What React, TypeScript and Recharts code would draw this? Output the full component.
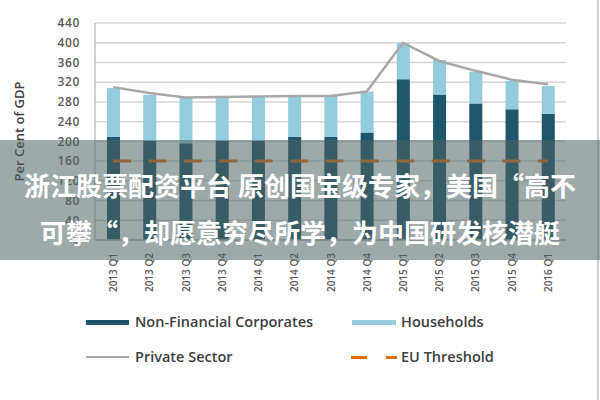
import React from 'react';
import { ComposedChart, Bar, Line, XAxis, YAxis, CartesianGrid, Label } from 'recharts';

const categories = ['2013 Q1', '2013 Q2', '2013 Q3', '2013 Q4', '2014 Q1', '2014 Q2', '2014 Q3', '2014 Q4', '2015 Q1', '2015 Q2', '2015 Q3', '2015 Q4', '2016 Q1'];
const nonFinancialCorporates = [209, 201, 196, 201, 201, 209, 209, 218, 326, 295, 277, 265, 256];
const households = [99, 93, 93, 90, 90, 85, 83, 83, 73, 70, 64, 58, 56];
const privateSector = [310, 298, 289, 290, 291, 292, 292, 301, 400, 363, 343, 325, 316];
const euThreshold = [160, 160, 160, 160, 160, 160, 160, 160, 160, 160, 160, 160, 160];
const yTicks = [0, 40, 80, 120, 160, 200, 240, 280, 320, 360, 400, 440];

const bannerLines = ['浙江股票配资平台 原创国宝级专家，美国“高不', '可攀“，却愿意穷尽所学，为中国研发核潜艇'];

const COLORS = {
  nfc: '#1e566b',
  hh: '#93cddd',
  ps: '#a8a8a8',
  eu: '#e46c0a',
};

const data = categories.map((c, i) => ({
  name: c,
  nfc: nonFinancialCorporates[i],
  hh: households[i],
  ps: privateSector[i],
  eu: euThreshold[i],
}));

const FONT = '"Open Sans", "DejaVu Sans", sans-serif';

const XTick = (props: any) => {
  const { x, y, payload } = props;
  return (
    <text
      transform={`translate(${x},${y + 5}) rotate(-90)`}
      textAnchor="end"
      dominantBaseline="central"
      fontSize={10}
      fontFamily={FONT}
      fontWeight={600}
      fill="#595959"
    >
      {payload.value}
    </text>
  );
};

const legendFont: React.CSSProperties = {
  position: 'absolute',
  fontFamily: FONT,
  fontWeight: 600,
  fontSize: 14.5,
  color: '#404040',
  lineHeight: '18px',
  whiteSpace: 'nowrap',
};

export default function App() {
  return (
    <div style={{ position: 'absolute', left: 0, top: 0, width: 600, height: 400, background: '#fff', overflow: 'hidden' }}>
      <ComposedChart width={600} height={400} data={data} margin={{ top: 23, right: 34, left: 35, bottom: 105 }}>
        <CartesianGrid vertical={false} stroke="#d6d6d6" strokeWidth={1.5} />
        <XAxis
          dataKey="name"
          tick={<XTick />}
          tickLine={false}
          axisLine={{ stroke: '#bfbfbf', strokeWidth: 1.5 }}
          interval={0}
          height={55}
        />
        <YAxis
          domain={[0, 440]}
          ticks={yTicks}
          tickLine={false}
          tickSize={13}
          axisLine={{ stroke: '#c4c4c4', strokeWidth: 1.5 }}
          width={60}
          tick={{ fontSize: 12, fill: '#595959', fontFamily: FONT, fontWeight: 600, letterSpacing: 0.6 }}
          interval={0}
        >
          <Label
            value="Per Cent of GDP"
            angle={-90}
            position="insideLeft"
            offset={-16}
            style={{ textAnchor: 'middle', fontSize: 13, fontFamily: FONT, fontWeight: 600, fill: '#404040' }}
          />
        </YAxis>
        <YAxis yAxisId="r" orientation="right" width={0} tick={false} tickLine={false} axisLine={{ stroke: '#c4c4c4', strokeWidth: 1.5 }} domain={[0, 440]} />
        <Bar dataKey="nfc" stackId="a" fill={COLORS.nfc} barSize={13} isAnimationActive={false} />
        <Bar dataKey="hh" stackId="a" fill={COLORS.hh} barSize={13} isAnimationActive={false} />
        <Line dataKey="ps" stroke={COLORS.ps} strokeWidth={2.5} dot={false} type="linear" isAnimationActive={false} />
        <Line dataKey="eu" stroke={COLORS.eu} strokeWidth={3} strokeDasharray="18 17.4" dot={false} type="linear" isAnimationActive={false} />
      </ComposedChart>

      {/* Legend */}
      <div style={{ position: 'absolute', left: 86, top: 320, width: 43, height: 5, background: COLORS.nfc }} />
      <div style={{ ...legendFont, left: 135, top: 313 }}>Non-Financial Corporates</div>
      <div style={{ position: 'absolute', left: 352, top: 320, width: 44, height: 5, background: COLORS.hh }} />
      <div style={{ ...legendFont, left: 401, top: 313 }}>Households</div>
      <div style={{ position: 'absolute', left: 86, top: 356, width: 43, height: 2, background: COLORS.ps }} />
      <div style={{ ...legendFont, left: 135, top: 348 }}>Private Sector</div>
      <div style={{ position: 'absolute', left: 351, top: 355.5, width: 16, height: 3, background: COLORS.eu }} />
      <div style={{ position: 'absolute', left: 386, top: 355.5, width: 11, height: 3, background: COLORS.eu }} />
      <div style={{ ...legendFont, left: 401, top: 348 }}>EU Threshold</div>

      {/* right frame line */}
      <div style={{ position: 'absolute', left: 597, top: 0, width: 2, height: 400, background: '#cfcfcf' }} />

      {/* overlay banner */}
      <div
        style={{
          position: 'absolute',
          left: 0,
          top: 140,
          width: 600,
          height: 120,
          background: 'rgba(78, 98, 98, 0.55)',
        }}
      >
        {bannerLines.map((t, i) => (
          <div
            key={i}
            style={{
              position: 'absolute',
              left: 0,
              width: 600,
              top: i === 0 ? 28 : 75,
              textAlign: 'center',
              fontFamily: '"Noto Sans CJK SC", sans-serif',
              fontWeight: 700,
              fontSize: 26,
              lineHeight: '34px',
              color: '#ffffff',
              whiteSpace: 'nowrap',
            }}
          >
            {t}
          </div>
        ))}
      </div>
    </div>
  );
}
